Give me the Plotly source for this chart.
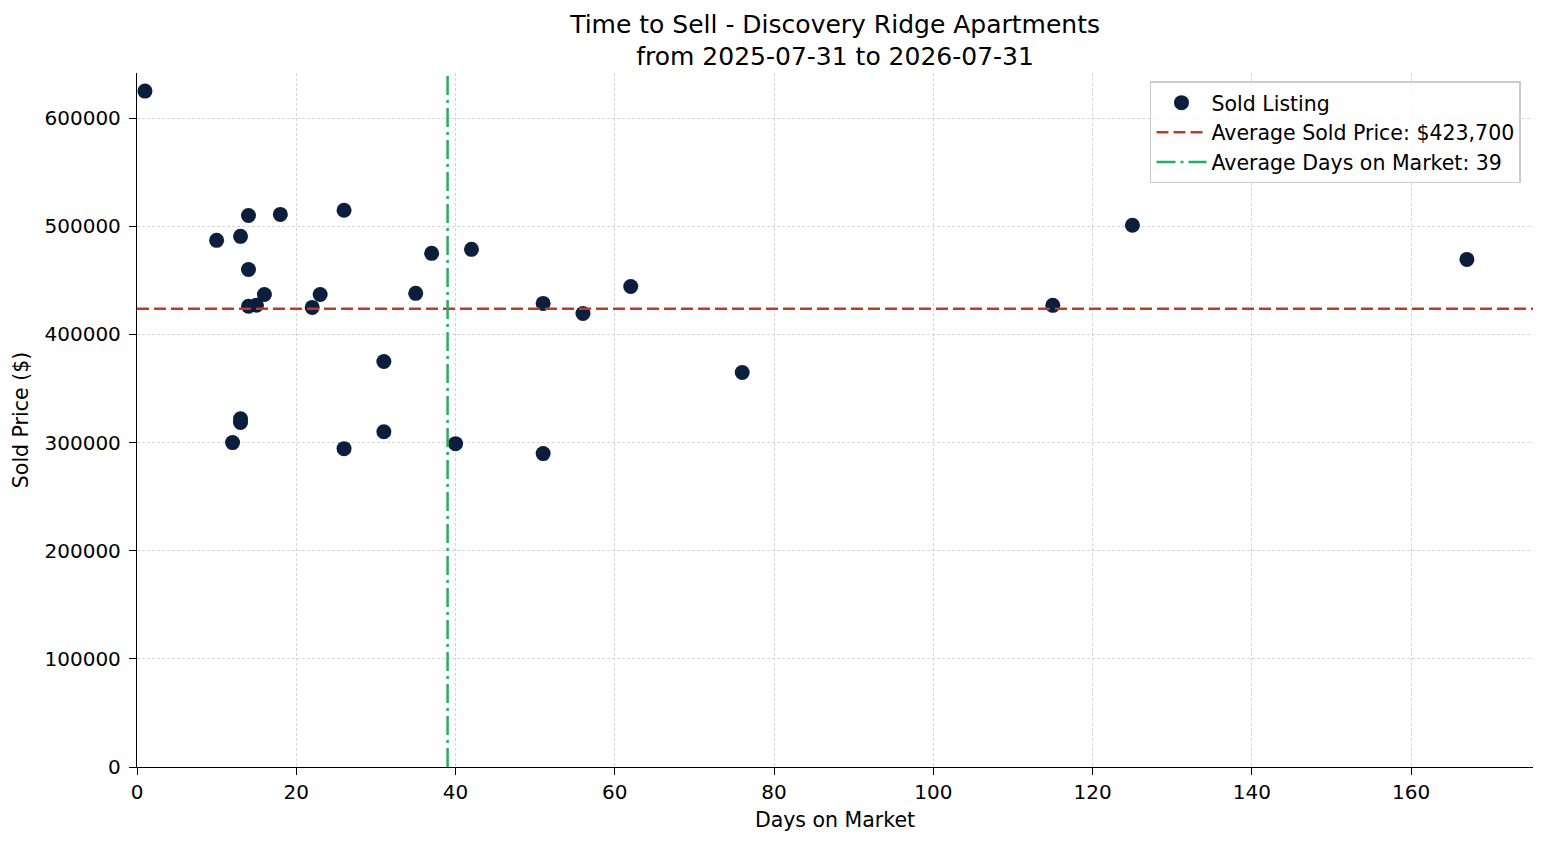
import plotly.graph_objects as go

days_on_market = [1, 10, 13, 14, 18, 26, 14, 14, 15, 16, 22, 23, 31, 35, 37,
                  42, 51, 56, 62, 76, 115, 125, 167, 12, 13, 13, 26, 31, 40, 51]
sold_price = [625000, 487000, 490700, 510000, 511000, 514800, 460000, 426000,
              427000, 437000, 425000, 437000, 375000, 438000, 475000, 478700,
              428700, 419400, 444400, 364800, 426900, 501000, 469400, 300000,
              322000, 318500, 294400, 310000, 299000, 289800]
avg_price = 423700
avg_days = 39

navy = "#0b1f3d"
red = "#c0392b"
green = "#27ae60"
grid = "#d6d6d6"

fig = go.Figure()

fig.add_trace(go.Scatter(
    x=days_on_market, y=sold_price, mode="markers", name="Sold Listing",
    marker=dict(color=navy, size=15, line=dict(width=0)),
))

fig.add_hline(y=avg_price, line=dict(color=red, width=2.5, dash="12px,5px"),
              showlegend=True, name=f"Average Sold Price: ${avg_price:,}")
fig.add_vline(x=avg_days, line=dict(color=green, width=2.5, dash="19px,5px,3px,5px"),
              showlegend=True, name=f"Average Days on Market: {avg_days}")

font = "DejaVu Sans, Arial, sans-serif"

fig.update_layout(
    width=1547, height=845,
    margin=dict(l=137, r=14, t=73, b=78),
    plot_bgcolor="white", paper_bgcolor="white",
    font=dict(family=font, size=20, color="black"),
    title=dict(text="Time to Sell - Discovery Ridge Apartments<br>from 2025-07-31 to 2026-07-31",
               x=0.5398, xanchor="center", y=0.961, yanchor="middle",
               font=dict(size=25, family=font)),
    legend=dict(x=0.9914, y=0.988, xanchor="right", yanchor="top",
                bgcolor="rgba(255,255,255,0.8)", bordercolor="#cccccc", borderwidth=1.5,
                font=dict(size=20.5, family=font), itemwidth=50),
    showlegend=True,
)

fig.update_xaxes(
    range=[0, 175.3], title=dict(text="Days on Market", font=dict(size=20.5), standoff=9),
    dtick=20, showgrid=True, gridcolor=grid, griddash="3px,2px", gridwidth=0.8,
    showline=True, linecolor="black", linewidth=1.3, zeroline=False,
    ticks="outside", ticklen=7, tickcolor="black", tickfont=dict(size=20),
)
fig.update_yaxes(
    range=[0, 641760], title=dict(text="Sold Price ($)", font=dict(size=20.5), standoff=10),
    dtick=100000, tickformat="d", showgrid=True, gridcolor=grid, griddash="3px,2px", gridwidth=0.8,
    showline=True, linecolor="black", linewidth=1.3, zeroline=False,
    ticks="outside", ticklen=7, tickcolor="black", tickfont=dict(size=20),
    ticklabelstandoff=4,
)

fig.write_html("out.html", config={"displayModeBar": False},
               post_script="document.body.style.margin='0';")
